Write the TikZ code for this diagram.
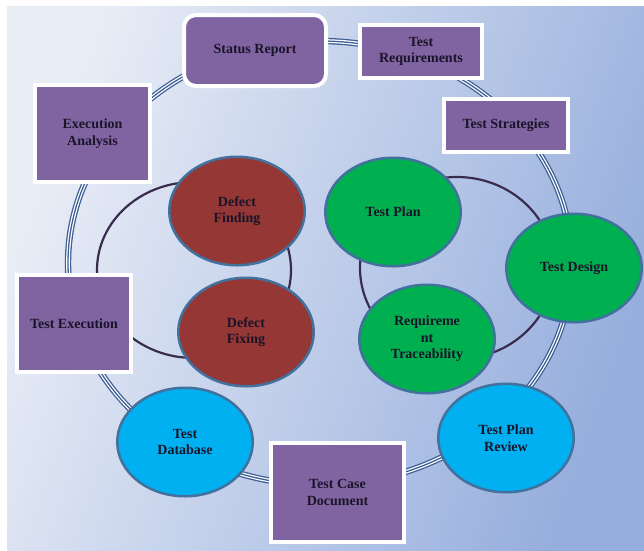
\documentclass[tikz,border=0pt]{standalone}
\usepackage{fontspec}
\setmainfont{Liberation Serif}
\usetikzlibrary{shapes.geometric,shadows}
\definecolor{CycBox}{HTML}{8064A2}
\definecolor{CycRed}{HTML}{953735}
\definecolor{CycGreen}{HTML}{00B050}
\definecolor{CycBlue}{HTML}{00B0F0}
\definecolor{CycEdge}{HTML}{41719C}
\definecolor{CycRing}{HTML}{3E6096}
\definecolor{CycLoop}{HTML}{3A2C4E}
\definecolor{CycText}{HTML}{1A1428}
\definecolor{BgLight}{HTML}{E9EDF6}
\definecolor{BgMid}{HTML}{D4DDF0}
\definecolor{BgDark}{HTML}{96AEDD}

\begin{document}
\begin{tikzpicture}[x=1pt,y=-1pt,
      label/.style={align=center,text=CycText,font=\bfseries\fontsize{14}{16.5}\selectfont},
      box/.style={label,draw=white,line width=4pt,fill=CycBox,inner sep=2pt,
        drop shadow={opacity=0.2,shadow xshift=1.5pt,shadow yshift=-1.5pt}},
      disc/.style={label,ellipse,draw=CycEdge,line width=2.5pt,inner sep=0pt,
        minimum width=135.5pt,minimum height=108.5pt},
      loop/.style={ellipse,draw=CycLoop,line width=2.2pt,inner sep=0pt},
      triple/.style={ellipse,draw=CycRing,line width=6.4pt,inner sep=0pt,
        postaction={draw=white,line width=3.8pt},
        postaction={draw=CycRing,line width=1.3pt}}
    ]
      \useasboundingbox (0,0) rectangle (644,550);
      \fill[white] (0,0) rectangle (644,550);
      \shade[top color=BgLight,middle color=BgMid,bottom color=BgDark,shading angle=70]
        (7,6) rectangle (644,550);
      % rings behind everything
      \node[triple,minimum width=504pt,minimum height=444pt] (cycle) at (320,263) {};
      \node[loop,minimum width=194pt,minimum height=176pt] (defloop) at (194,270) {};
      \node[loop,minimum width=194pt,minimum height=182pt] (planloop) at (457,268) {};
      % outer boxes
      \node[box,rounded corners=12pt,minimum width=142pt,minimum height=71pt] (status)
        at (255,50.5) {Status Report};
      \node[box,minimum width=122pt,minimum height=53pt] (req) at (421,51.5)
        {Test\\Requirements};
      \node[box,minimum width=124pt,minimum height=53pt] (strat) at (506,125.5)
        {Test Strategies};
      \node[box,minimum width=115pt,minimum height=97pt] (analysis) at (92.5,133.5)
        {Execution\\Analysis};
      \node[box,minimum width=114pt,minimum height=97pt] (exec) at (74,323.5)
        {Test Execution};
      \node[box,minimum width=133pt,minimum height=99pt] (casedoc) at (337.5,492.5)
        {Test Case\\Document};
      % circles
      \node[disc,fill=CycRed] (finding) at (237,211) {Defect\\Finding};
      \node[disc,fill=CycRed] (fixing) at (246,332) {Defect\\Fixing};
      \node[disc,fill=CycGreen] (plan) at (393,212) {Test Plan};
      \node[disc,fill=CycGreen] (trace) at (427,339) {Requireme\\nt\\Traceability};
      \node[disc,fill=CycGreen] (design) at (574,268) {Test Design};
      \node[disc,fill=CycBlue] (review) at (506,438) {Test Plan\\Review};
      \node[disc,fill=CycBlue] (database) at (185,442) {Test\\Database};
    \end{tikzpicture}
\end{document}
